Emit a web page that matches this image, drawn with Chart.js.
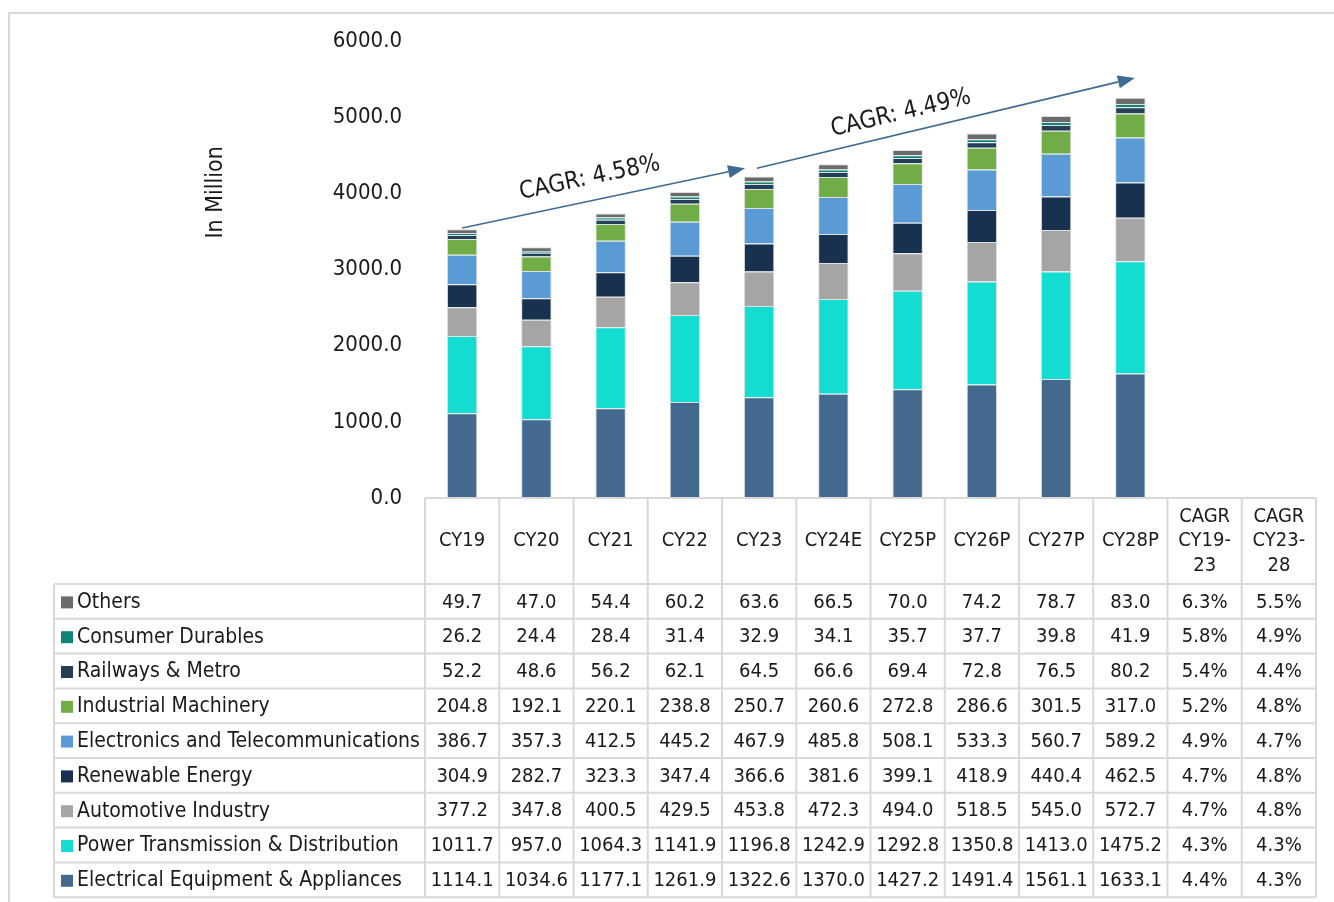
<!DOCTYPE html>
<html>
<head>
<meta charset="utf-8">
<script src="https://cdn.jsdelivr.net/npm/chart.js@4.4.1/dist/chart.umd.min.js"></script>
<style>
  html, body { margin: 0; padding: 0; background: #fff; }
  #wrap { width: 1334px; height: 902px; position: relative; }
</style>
</head>
<body>
<div id="wrap"><canvas id="marketChart"></canvas></div>
<script>
// Categories
const years = ['CY19', 'CY20', 'CY21', 'CY22', 'CY23', 'CY24E', 'CY25P', 'CY26P', 'CY27P', 'CY28P']
const cagrHeaders = [['CAGR', 'CY19-', '23'], ['CAGR', 'CY23-', '28']]

// Series values (In Million)
const electrical = [1114.1, 1034.6, 1177.1, 1261.9, 1322.6, 1370.0, 1427.2, 1491.4, 1561.1, 1633.1]
const powerTD = [1011.7, 957.0, 1064.3, 1141.9, 1196.8, 1242.9, 1292.8, 1350.8, 1413.0, 1475.2]
const automotive = [377.2, 347.8, 400.5, 429.5, 453.8, 472.3, 494.0, 518.5, 545.0, 572.7]
const renewable = [304.9, 282.7, 323.3, 347.4, 366.6, 381.6, 399.1, 418.9, 440.4, 462.5]
const electronics = [386.7, 357.3, 412.5, 445.2, 467.9, 485.8, 508.1, 533.3, 560.7, 589.2]
const industrial = [204.8, 192.1, 220.1, 238.8, 250.7, 260.6, 272.8, 286.6, 301.5, 317.0]
const railways = [52.2, 48.6, 56.2, 62.1, 64.5, 66.6, 69.4, 72.8, 76.5, 80.2]
const consumer = [26.2, 24.4, 28.4, 31.4, 32.9, 34.1, 35.7, 37.7, 39.8, 41.9]
const others = [49.7, 47.0, 54.4, 60.2, 63.6, 66.5, 70.0, 74.2, 78.7, 83.0]

// CAGR columns (same order as the series, bottom of stack first)
const cagr1923 = ['4.4%', '4.3%', '4.7%', '4.7%', '4.9%', '5.2%', '5.4%', '5.8%', '6.3%']
const cagr2328 = ['4.3%', '4.3%', '4.8%', '4.8%', '4.7%', '4.8%', '4.4%', '4.9%', '5.5%']

// Growth arrows: [label, start index, start value, end index, end value, label index, label value]
const cagrNotes = [
  ['CAGR: 4.58%', 0, 3545, 3.81, 4330, 1.72, 4200],
  ['CAGR: 4.49%', 3.97, 4330, 9.06, 5515, 5.91, 5050]
]

const seriesNames = [
  'Electrical Equipment & Appliances',
  'Power Transmission & Distribution',
  'Automotive Industry',
  'Renewable Energy',
  'Electronics and Telecommunications',
  'Industrial Machinery',
  'Railways & Metro',
  'Consumer Durables',
  'Others'
]
const seriesData = [electrical, powerTD, automotive, renewable, electronics, industrial, railways, consumer, others]
const seriesColors = ['#44698f', '#13ddd1', '#a5a5a5', '#17314f', '#5b9bd5', '#70ad47', '#263f58', '#0f8578', '#6b6b6b']

const FONT = '"DejaVu Sans Condensed", "DejaVu Sans", sans-serif'
const TEXT = '#1a1a1a'
const LINE = '#d9d9d9'

const labels = years.concat(['', ''])

// Background + outer frame
const framePlugin = {
  id: 'framePlugin',
  beforeDraw(chart) {
    const ctx = chart.ctx
    ctx.save()
    ctx.fillStyle = '#fff'
    ctx.fillRect(0, 0, chart.width, chart.height)
    ctx.strokeStyle = LINE
    ctx.lineWidth = 2
    ctx.strokeRect(9, 13, chart.width + 10, chart.height + 10)
    ctx.restore()
  }
}

// CAGR arrows and axis title
const notesPlugin = {
  id: 'notesPlugin',
  afterDatasetsDraw(chart) {
    const ctx = chart.ctx
    const x = chart.scales.x
    const y = chart.scales.y
    ctx.save()

    // y axis title
    ctx.translate(216, y.getPixelForValue(4000) - 1)
    ctx.rotate(-Math.PI / 2)
    ctx.fillStyle = TEXT
    ctx.font = '23px ' + FONT
    ctx.textAlign = 'center'
    ctx.textBaseline = 'middle'
    ctx.fillText('In Million', 0, 0)
    ctx.setTransform(1, 0, 0, 1, 0, 0)

    cagrNotes.forEach(note => {
      const x0 = x.getPixelForValue(note[1])
      const y0 = y.getPixelForValue(note[2])
      const x1 = x.getPixelForValue(note[3])
      const y1 = y.getPixelForValue(note[4])
      const ang = Math.atan2(y1 - y0, x1 - x0)
      const head = 17

      ctx.strokeStyle = '#3f6a92'
      ctx.fillStyle = '#3f6a92'
      ctx.lineWidth = 1.6
      ctx.beginPath()
      ctx.moveTo(x0, y0)
      ctx.lineTo(x1 - head * Math.cos(ang), y1 - head * Math.sin(ang))
      ctx.stroke()

      ctx.beginPath()
      ctx.moveTo(x1, y1)
      ctx.lineTo(x1 - head * Math.cos(ang) + 6.5 * Math.sin(ang), y1 - head * Math.sin(ang) - 6.5 * Math.cos(ang))
      ctx.lineTo(x1 - head * Math.cos(ang) - 6.5 * Math.sin(ang), y1 - head * Math.sin(ang) + 6.5 * Math.cos(ang))
      ctx.closePath()
      ctx.fill()

      ctx.save()
      ctx.translate(x.getPixelForValue(note[5]), y.getPixelForValue(note[6]))
      ctx.rotate(ang)
      ctx.fillStyle = TEXT
      ctx.font = '24px ' + FONT
      ctx.textAlign = 'center'
      ctx.textBaseline = 'middle'
      ctx.fillText(note[0], 0, 0)
      ctx.restore()
    })
    ctx.restore()
  }
}

// Data table under the bars
const tablePlugin = {
  id: 'tablePlugin',
  afterDraw(chart) {
    const ctx = chart.ctx
    const x = chart.scales.x
    const area = chart.chartArea
    const nCols = labels.length
    const step = (area.right - area.left) / nCols
    const colLeft = i => x.getPixelForValue(i) - step / 2
    const headerTop = area.bottom
    const headerH = 86
    const rowH = 34.8
    const tableLeft = 54
    const bodyTop = headerTop + headerH
    const nRows = seriesNames.length
    const bottom = bodyTop + nRows * rowH

    ctx.save()
    ctx.strokeStyle = LINE
    ctx.lineWidth = 2
    ctx.beginPath()
    ctx.moveTo(colLeft(0), headerTop)
    ctx.lineTo(area.right, headerTop)
    for (let r = 0; r <= nRows; r++) {
      ctx.moveTo(tableLeft, bodyTop + r * rowH)
      ctx.lineTo(area.right, bodyTop + r * rowH)
    }
    ctx.moveTo(tableLeft, bodyTop)
    ctx.lineTo(tableLeft, bottom)
    for (let c = 0; c <= nCols; c++) {
      const cx = c < nCols ? colLeft(c) : area.right
      ctx.moveTo(cx, headerTop)
      ctx.lineTo(cx, bottom)
    }
    ctx.stroke()

    ctx.fillStyle = TEXT
    ctx.font = '20px ' + FONT
    ctx.textBaseline = 'middle'
    ctx.textAlign = 'center'

    // header
    years.forEach((yr, i) => {
      ctx.fillText(yr, x.getPixelForValue(i), headerTop + headerH / 2)
    })
    cagrHeaders.forEach((lines, k) => {
      const cx = x.getPixelForValue(years.length + k)
      lines.forEach((t, j) => {
        ctx.fillText(t, cx, headerTop + headerH / 2 + (j - 1) * 24.5)
      })
    })

    // body rows, top row is the top of the stack
    for (let r = 0; r < nRows; r++) {
      const s = nRows - 1 - r
      const cy = bodyTop + r * rowH + rowH / 2 + 1
      ctx.fillStyle = seriesColors[s]
      ctx.fillRect(tableLeft + 7, cy - 6, 12, 12)
      ctx.fillStyle = TEXT
      ctx.textAlign = 'left'
      ctx.font = '21px ' + FONT
      ctx.fillText(seriesNames[s], tableLeft + 23, cy)
      ctx.font = '20px ' + FONT
      ctx.textAlign = 'center'
      seriesData[s].forEach((v, i) => {
        ctx.fillText(v.toFixed(1), x.getPixelForValue(i), cy)
      })
      ctx.fillText(cagr1923[s], x.getPixelForValue(years.length), cy)
      ctx.fillText(cagr2328[s], x.getPixelForValue(years.length + 1), cy)
    }
    ctx.restore()
  }
}

const datasets = seriesNames.map((name, i) => ({
  label: name,
  data: seriesData[i],
  backgroundColor: seriesColors[i],
  borderColor: 'rgba(220, 220, 220, 0.9)',
  borderWidth: 1,
  borderSkipped: 'bottom',
  categoryPercentage: 1,
  barPercentage: 0.41
}))

new Chart(document.getElementById('marketChart'), {
  type: 'bar',
  data: { labels: labels, datasets: datasets },
  options: {
    responsive: true,
    maintainAspectRatio: false,
    animation: false,
    layout: { padding: { top: 41, left: 0, right: 18, bottom: 404 } },
    plugins: {
      legend: { display: false },
      tooltip: { enabled: false }
    },
    scales: {
      x: {
        stacked: true,
        display: false
      },
      y: {
        stacked: true,
        min: 0,
        max: 6000,
        afterFit(scale) { scale.width = 425 },
        border: { display: false },
        grid: { display: false },
        ticks: {
          stepSize: 1000,
          padding: 15,
          color: TEXT,
          font: { family: FONT, size: 22 },
          callback: v => v.toFixed(1)
        }
      }
    }
  },
  plugins: [framePlugin, notesPlugin, tablePlugin]
})
</script>
</body>
</html>
